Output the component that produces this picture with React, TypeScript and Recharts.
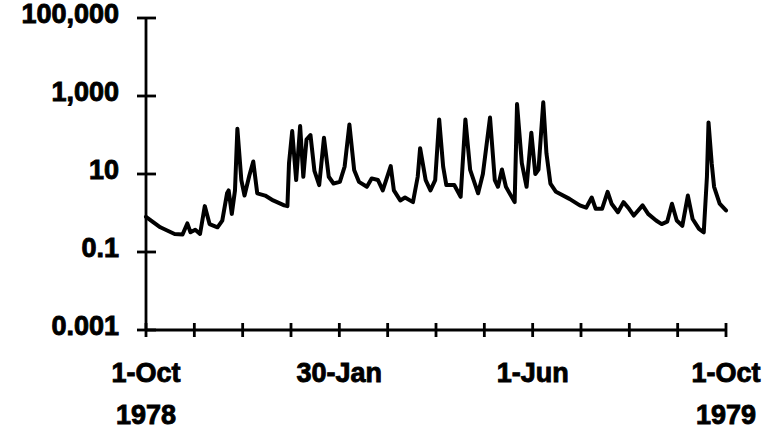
import React from "react";
import { LineChart, Line, XAxis, YAxis } from "recharts";

// Day offsets from 1-Oct-1978 and the flow
const days = [
  0, 9, 18, 23, 26, 28, 31, 34, 37, 40, 45, 48, 51, 52, 54, 56, 57.5, 60, 62, 65,
  67.5, 70, 75, 80, 87, 89, 90, 92, 94.5, 97, 99, 101, 103.5, 106, 109, 112, 115, 118, 122, 125,
  128, 131, 134, 139, 142, 146, 149, 154, 156, 160, 163, 168, 171, 172.5, 176, 179, 182, 184.5, 187, 189,
  194, 198, 201, 204, 209, 212, 216.5, 219.5, 221.5, 224, 226.5, 232, 233.5, 236.5, 239.5, 242.5, 245, 247, 250, 252,
  254.5, 258, 266.5, 273, 277, 280.5, 283, 287, 290.5, 293, 297, 300.5, 304, 307, 312.5, 316, 321, 324.5, 328, 331,
  334, 337.5, 341, 344, 348, 351, 353, 354, 356, 357.5, 361, 365,
];
const flow = [
  0.8, 0.43, 0.29, 0.28, 0.54, 0.32, 0.37, 0.29, 1.5, 0.52, 0.43, 0.64, 3.2, 3.8, 0.95, 3.8, 145, 7, 2.8, 9,
  21, 3.2, 2.8, 2.1, 1.57, 1.5, 19, 126, 7, 170, 8.5, 76, 100, 12, 5.2, 85, 8.5, 5.7, 6.3, 15.5,
  187, 12.7, 6.3, 4.7, 7.7, 7, 3.8, 16, 3.8, 2.1, 2.5, 1.9, 8.5, 46, 7, 3.8, 7, 250, 15.5, 5.2,
  5.2, 2.6, 250, 12.7, 3.2, 10, 280, 7, 4.7, 13, 4.7, 1.9, 620, 19, 4.7, 114, 10, 13, 690, 34,
  5.7, 3.5, 2.3, 1.57, 1.37, 2.5, 1.28, 1.28, 3.5, 1.73, 1.05, 1.9, 1.28, 0.86, 1.57, 0.95, 0.64, 0.52, 0.6, 1.73,
  0.64, 0.47, 2.8, 0.7, 0.39, 0.32, 8.5, 210, 19, 4.7, 1.73, 1.16,
];

const yTicks = [0.001, 0.1, 10, 1000, 100000];
const yTickLabels = ["0.001", "0.1", "10", "1,000", "100,000"];
const xTickCount = 12;
const xTicks = Array.from({ length: xTickCount + 1 }, (_, i) => (i * 365) / xTickCount);
const xTickLabels: Record<number, string> = { 0: "1-Oct", 4: "30-Jan", 8: "1-Jun", 12: "1-Oct" };
const xYearLabels: Record<number, string> = { 0: "1978", 12: "1979" };

const data = days.map((d, i) => ({ day: d, flow: flow[i] }));

const FONT = "'Liberation Sans', Arial, Helvetica, sans-serif";
const textStyle = {
  fontFamily: FONT,
  fontWeight: "bold" as const,
  fontSize: 27,
  fill: "#000",
  stroke: "#000",
  strokeWidth: 0.9,
};

const YTick = (props: any) => {
  const { x, y, payload } = props;
  const idx = yTicks.indexOf(payload.value);
  return (
    <g>
      <line x1={x - 9} x2={x + 10} y1={y} y2={y} stroke="#000" strokeWidth={2.8} />
      <text x={x - 27} y={y - 2} textAnchor="end" dominantBaseline="middle" style={textStyle}>
        {idx >= 0 ? yTickLabels[idx] : ""}
      </text>
    </g>
  );
};

const XTick = (props: any) => {
  const { x, y, index } = props;
  const label = xTickLabels[index];
  const year = xYearLabels[index];
  return (
    <g>
      <line x1={x} x2={x} y1={y - 7} y2={y + 7} stroke="#000" strokeWidth={2.8} />
      {label && (
        <text x={x} y={y + 52} textAnchor="middle" style={textStyle}>
          {label}
        </text>
      )}
      {year && (
        <text x={x} y={y + 94} textAnchor="middle" style={textStyle}>
          {year}
        </text>
      )}
    </g>
  );
};

export default function App() {
  return (
    <div style={{ position: "absolute", left: 0, top: 0, background: "#fff" }}>
      <LineChart width={768} height={429} data={data} margin={{ top: 18, right: 42, bottom: 39, left: 46 }}>
        <XAxis
          dataKey="day"
          type="number"
          domain={[0, 365]}
          ticks={xTicks}
          interval={0}
          tickSize={0}
          tickMargin={0}
          height={60}
          axisLine={{ stroke: "#000", strokeWidth: 2.8 }}
          tickLine={false}
          tick={<XTick />}
        />
        <YAxis
          dataKey="flow"
          scale="log"
          domain={[0.001, 100000]}
          ticks={yTicks}
          interval={0}
          allowDataOverflow
          width={100}
          tickSize={0}
          tickMargin={0}
          axisLine={{ stroke: "#000", strokeWidth: 2.8 }}
          tickLine={false}
          tick={<YTick />}
        />
        <Line
          type="linear"
          dataKey="flow"
          stroke="#000"
          strokeWidth={4}
          strokeLinejoin="round"
          strokeLinecap="round"
          dot={false}
          isAnimationActive={false}
        />
      </LineChart>
    </div>
  );
}
